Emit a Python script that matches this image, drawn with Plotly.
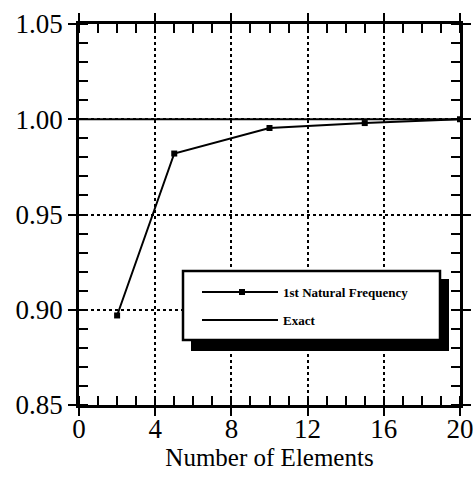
import plotly.graph_objects as go

# ---- data ----
n_elements = [2, 5, 10, 15, 20]
freq_ratio = [0.897, 0.982, 0.9954, 0.998, 1.000]
exact_x = [0, 20]
exact_y = [1.0, 1.0]
series_names = ["1st Natural Frequency", "Exact"]
x_title = "Number of Elements"

W, H = 473, 478
L, R, T, B = 79, 13, 24, 73
FONT = "Liberation Serif"

fig = go.Figure()
fig.add_trace(go.Scatter(x=exact_x, y=exact_y, mode="lines", name=series_names[1],
                         line=dict(color="black", width=2.2), showlegend=False, cliponaxis=False))
fig.add_trace(go.Scatter(x=n_elements, y=freq_ratio, mode="lines+markers", name=series_names[0],
                         line=dict(color="black", width=2),
                         marker=dict(symbol="square", size=6, color="black"),
                         showlegend=False, cliponaxis=False))

axis_common = dict(
    showline=True, linecolor="black", linewidth=2.5, mirror="ticks",
    ticks="outside", ticklen=8, tickwidth=2, tickcolor="black",
    showgrid=True, gridcolor="black", gridwidth=1.5, griddash="dot",
    zeroline=False, automargin=False, ticklabeloverflow="allow",
    tickfont=dict(family=FONT, size=27, color="black"),
)

fig.update_xaxes(range=[0, 20], tick0=0, dtick=4, ticklabelstandoff=-10,
                 minor=dict(dtick=1, ticks="inside", ticklen=9, tickwidth=2, tickcolor="black", showgrid=False),
                 title=dict(text=x_title, font=dict(family=FONT, size=25, color="black"), standoff=6),
                 **axis_common)
fig.update_yaxes(range=[0.85, 1.05], tick0=0.85, dtick=0.05, tickformat=".2f",
                 minor=dict(dtick=0.01, ticks="inside", ticklen=9, tickwidth=2, tickcolor="black", showgrid=False),
                 **axis_common)

# ---- custom legend box with drop shadow (paper coords) ----
pw, ph = W - L - R, H - T - B
def px(x):
    return (x - L) / pw
def py(y):
    return (H - B - y) / ph

shapes = [
    dict(type="rect", xref="paper", yref="paper", x0=px(191), x1=px(449), y0=py(351), y1=py(279),
         fillcolor="black", line=dict(color="black", width=0), layer="above"),
    dict(type="rect", xref="paper", yref="paper", x0=px(183), x1=px(440), y0=py(340), y1=py(271),
         fillcolor="white", line=dict(color="black", width=2.5), layer="above"),
    dict(type="line", xref="paper", yref="paper", x0=px(202), x1=px(278), y0=py(292), y1=py(292),
         line=dict(color="black", width=1.8), layer="above"),
    dict(type="line", xref="paper", yref="paper", x0=px(202), x1=px(278), y0=py(320), y1=py(320),
         line=dict(color="black", width=1.8), layer="above"),
    dict(type="rect", xref="paper", yref="paper", x0=px(239), x1=px(245), y0=py(295), y1=py(289),
         fillcolor="black", line=dict(color="black", width=0), layer="above"),
]
annotations = [
    dict(xref="paper", yref="paper", x=px(281), y=py(292), text="<b>" + series_names[0] + "</b>",
         showarrow=False, xanchor="left", yanchor="middle",
         font=dict(family=FONT, size=13, color="black")),
    dict(xref="paper", yref="paper", x=px(281), y=py(320), text="<b>" + series_names[1] + "</b>",
         showarrow=False, xanchor="left", yanchor="middle",
         font=dict(family=FONT, size=13, color="black")),
]

fig.update_layout(
    width=W, height=H,
    margin=dict(l=L, r=R, t=T, b=B, autoexpand=False),
    paper_bgcolor="white", plot_bgcolor="white",
    shapes=shapes, annotations=annotations,
    showlegend=False,
)

fig.write_html("out.html")
